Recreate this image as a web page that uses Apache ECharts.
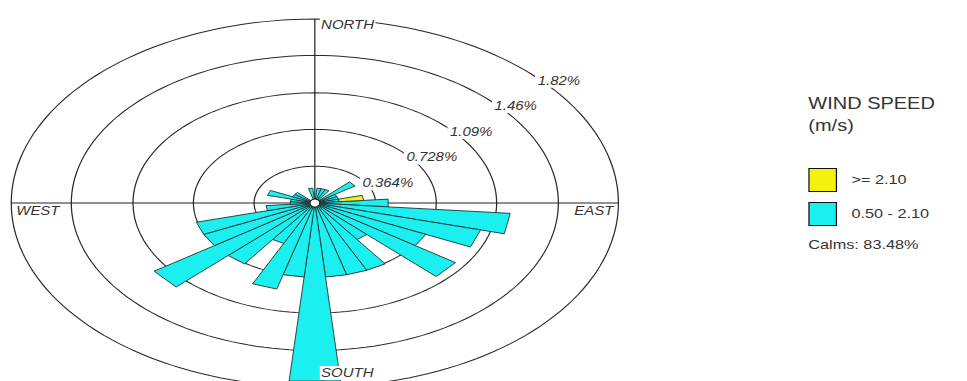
<!DOCTYPE html>
<html>
<head>
<meta charset="utf-8">
<title>Wind rose</title>
<script src="https://cdn.jsdelivr.net/npm/echarts@6/dist/echarts.min.js"></script>
<style>
  html, body { margin: 0; padding: 0; background: #fff; overflow: hidden; }
  /* the source picture is stretched sideways, so the whole chart is too */
  #chart { width: 774px; height: 381px; transform: scaleX(1.24935); transform-origin: 0 0; }
</style>
</head>
<body>
<div id="chart"></div>
<script>
// petal centre direction (deg) and frequency (%) per speed class
const directions = [0, 10, 20, 30, 40, 50, 60, 70, 80, 90, 100, 110,
  120, 130, 140, 150, 160, 170, 180, 190, 200, 210, 220, 230,
  240, 250, 260, 270, 280, 290, 300, 310, 320, 330, 340, 350];
const freqLow = [0, 0.147, 0.147, 0.147, 0, 0.294, 0.147, 0.147, 0.147, 0.441, 1.176, 1.029,
  0.735, 1.029, 0.441, 0.735, 0.735, 0.735, 1.77, 0.735, 0.882, 0.441, 0.735, 1.176,
  0.735, 0.735, 0.294, 0.147, 0.147, 0.294, 0.147, 0.147, 0, 0, 0, 0.147];
const freqHigh = [0, 0, 0, 0, 0, 0, 0, 0, 0.147, 0, 0, 0,
  0, 0, 0, 0, 0, 0, 0, 0, 0, 0, 0, 0,
  0, 0, 0, 0, 0, 0, 0, 0, 0, 0, 0, 0];
const ringTicks = [0.364, 0.728, 1.09, 1.46, 1.82];
const compassNames = ['NORTH', 'EAST', 'SOUTH', 'WEST'];
const compassAngles = [0, 90, 180, 270];
const speedClasses = ['>= 2.10', '0.50 - 2.10'];
const calms = 83.48;

const FONT = '"Liberation Sans", Arial, sans-serif';
const CYAN = '#1cefef';
const YELLOW = '#f2f20e';
const HALF = 5; // half petal width in degrees

function polarPoint(api, deg, r) {
  const a = deg * Math.PI / 180;
  return api.coord([r * Math.sin(a), r * Math.cos(a)]);
}

function petalRender(fill) {
  return function (params, api) {
    const dir = api.value(0);
    const r0 = api.value(1);
    const r1 = api.value(2);
    if (!(r1 > r0)) return null;
    const pts = r0 > 0
      ? [polarPoint(api, dir - HALF, r0), polarPoint(api, dir - HALF, r1),
         polarPoint(api, dir + HALF, r1), polarPoint(api, dir + HALF, r0)]
      : [polarPoint(api, 0, 0), polarPoint(api, dir - HALF, r1), polarPoint(api, dir + HALF, r1)];
    return {
      type: 'polygon',
      shape: { points: pts },
      style: { fill: fill, stroke: '#1d3333', lineWidth: 0.8 }
    };
  };
}

function ringRender(params, api) {
  const r = api.value(0);
  const pts = [];
  for (let d = 0; d <= 360; d += 2) pts.push(polarPoint(api, d, r));
  return {
    type: 'polyline',
    shape: { points: pts },
    style: { stroke: '#2a2a2a', lineWidth: 1, fill: null }
  };
}

function ringLabelRender(params, api) {
  const r = api.value(0);
  const p = polarPoint(api, 46 + 3.5 / r, r);
  return {
    type: 'text',
    x: p[0] - 4,
    y: p[1] + 1,
    style: {
      text: r + '%', fill: '#333', font: 'italic 12px ' + FONT,
      align: 'left', verticalAlign: 'middle',
      backgroundColor: '#fff', padding: [1, 2]
    }
  };
}

function axisRender(params, api) {
  const a = api.value(0);
  const p1 = polarPoint(api, a, ringTicks[ringTicks.length - 1]);
  const p2 = polarPoint(api, a + 180, ringTicks[ringTicks.length - 1]);
  return {
    type: 'line',
    shape: { x1: p1[0], y1: p1[1], x2: p2[0], y2: p2[1] },
    style: { stroke: '#222', lineWidth: 1 }
  };
}

function compassRender(params, api) {
  const a = api.value(0);
  const p = polarPoint(api, a, ringTicks[ringTicks.length - 1]);
  let dx = 4, dy = 6, align = 'left';
  if (a === 90) { dx = -3; dy = 8; align = 'right'; }
  if (a === 180) { dx = 4; dy = -14; }
  if (a === 270) { dx = 3; dy = 8; }
  return {
    type: 'text',
    x: p[0] + dx,
    y: p[1] + dy,
    style: {
      text: compassNames[params.dataIndex], fill: '#333', font: 'italic 12px ' + FONT,
      align: align, verticalAlign: 'middle',
      backgroundColor: '#fff', padding: [1, 1]
    }
  };
}

const lowData = directions.map((d, i) => [d, 0, freqLow[i]]);
const highData = directions.map((d, i) => [d, freqLow[i], freqLow[i] + freqHigh[i]]);

const chart = echarts.init(document.getElementById('chart'), null, { renderer: 'svg' });
chart.setOption({
  animation: false,
  backgroundColor: '#fff',
  title: [
    {
      text: 'WIND SPEED\n(m/s)',
      left: 647, top: 93, padding: 0,
      textStyle: { fontFamily: FONT, fontSize: 16, fontWeight: 'normal', color: '#333', lineHeight: 22 }
    },
    {
      text: 'Calms: ' + calms.toFixed(2) + '%',
      left: 647, top: 238, padding: 0,
      textStyle: { fontFamily: FONT, fontSize: 13, fontWeight: 'normal', color: '#333' }
    }
  ],
  legend: {
    orient: 'vertical',
    left: 647, top: 168, padding: 0,
    itemWidth: 22, itemHeight: 23, itemGap: 10,
    icon: 'rect',
    selectedMode: false,
    data: [
      { name: speedClasses[0], itemStyle: { color: YELLOW, borderColor: '#111', borderWidth: 1 } },
      { name: speedClasses[1], itemStyle: { color: CYAN, borderColor: '#111', borderWidth: 1 } }
    ],
    textStyle: { fontFamily: FONT, fontSize: 13, color: '#333', padding: [0, 0, 0, 7] }
  },
  // grid kept inside the page; centre of the rose at y = 203
  grid: { left: 1, top: 11, width: 502, height: 370, outerBoundsMode: 'none' },
  xAxis: { type: 'value', min: -1.88, max: 1.88, show: false },
  yAxis: { type: 'value', min: -1.7615, max: 1.9, show: false },
  series: [
    {
      name: 'rings', type: 'custom', silent: true, z: 1, clip: false,
      data: ringTicks.map(v => [v, 0]),
      renderItem: ringRender
    },
    {
      name: 'axes', type: 'custom', silent: true, z: 2, clip: false,
      data: [[0, 0], [90, 0]],
      renderItem: axisRender
    },
    {
      name: speedClasses[1], type: 'custom', silent: true, z: 3, clip: false,
      itemStyle: { color: CYAN },
      data: lowData,
      renderItem: petalRender(CYAN)
    },
    {
      name: speedClasses[0], type: 'custom', silent: true, z: 3, clip: false,
      itemStyle: { color: YELLOW },
      data: highData,
      renderItem: petalRender(YELLOW)
    },
    {
      name: 'hub', type: 'custom', silent: true, z: 4,
      data: [[0, 0]],
      renderItem: function (params, api) {
        const c = api.coord([0, 0]);
        return {
          type: 'circle',
          shape: { cx: c[0], cy: c[1], r: 4 },
          style: { fill: '#fff', stroke: '#222', lineWidth: 1 }
        };
      }
    },
    {
      name: 'ringLabels', type: 'custom', silent: true, z: 5, clip: false,
      data: ringTicks.map(v => [v, 0]),
      renderItem: ringLabelRender
    },
    {
      name: 'compass', type: 'custom', silent: true, z: 5, clip: false,
      data: compassAngles.map(a => [a, 0]),
      renderItem: compassRender
    }
  ]
});
</script>
</body>
</html>
